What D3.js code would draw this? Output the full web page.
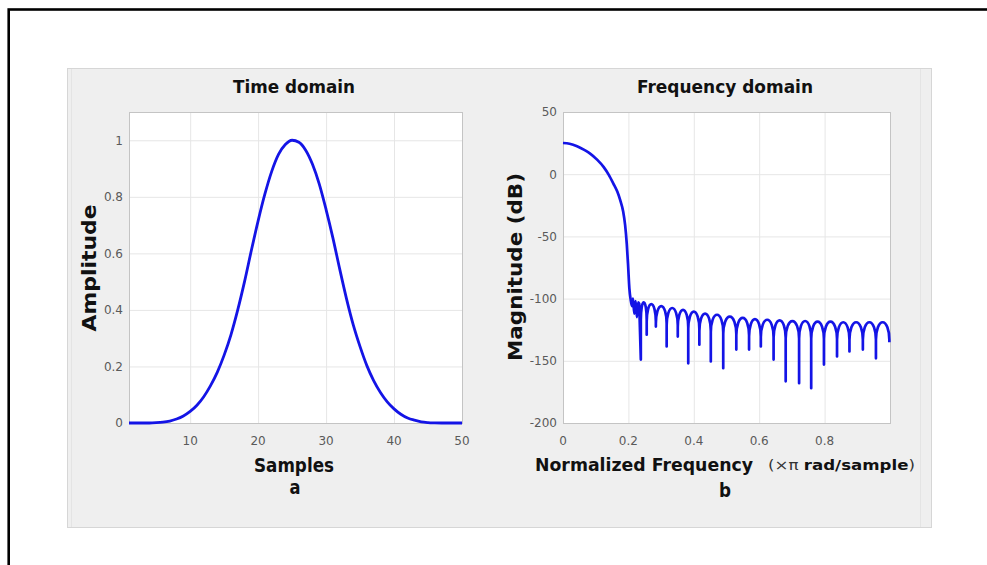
<!DOCTYPE html>
<html>
<head>
<meta charset="utf-8">
<script src="https://cdn.jsdelivr.net/npm/d3@7"></script>
<style>
  body { margin: 0; background: #fff; }
  svg { display: block; }
  .tick-label { font-family: "Liberation Sans Narrow", "Arial Narrow", "DejaVu Sans", sans-serif; font-size: 12px; fill: #5a5a5a; }
  .label { font-family: "DejaVu Sans", sans-serif; font-weight: bold; fill: #111; }
</style>
</head>
<body>
<div id="container"></div>
<script>
// ---------- data ----------
const samples = d3.range(1, 51)
const amplitude = [
    0, 0, 0, 0, 0.001, 0.003, 0.007, 0.014, 0.025, 0.041,
    0.063, 0.093, 0.132, 0.18, 0.24, 0.312, 0.4, 0.5, 0.61, 0.715,
    0.81, 0.89, 0.95, 0.985, 1.0, 0.993, 0.965, 0.915, 0.845, 0.755,
    0.655, 0.545, 0.44, 0.347, 0.27, 0.203, 0.15, 0.108, 0.075, 0.05,
    0.031, 0.018, 0.01, 0.004, 0.0015, 0.0005, 0, 0, 0, 0
]

// main lobe + first small wiggles: [freq, dB]
const mainLobe = [
    [0, 25.1], [0.02, 24.5], [0.043, 22.5], [0.065, 19.5], [0.083, 16.6],
    [0.105, 11.5], [0.124, 5.9], [0.14, -0.5], [0.154, -7.5], [0.166, -14],
    [0.175, -20.9], [0.184, -30], [0.19, -41], [0.195, -56], [0.199, -73],
    [0.203, -92], [0.207, -101], [0.211, -106], [0.214, -100], [0.218, -112],
    [0.222, -102], [0.226, -115], [0.23, -103], [0.233, -104]
]
// side-lobe nulls [freq, dB] and lobe tops between them (dB)
const nullFreq = [0.238, 0.256, 0.284, 0.317, 0.351, 0.383, 0.417, 0.452, 0.49, 0.53,
    0.569, 0.605, 0.644, 0.681, 0.722, 0.759, 0.798, 0.838, 0.876, 0.917, 0.957, 0.998]
const nullDepth = [-149, -129, -122.5, -138.5, -130.5, -152, -137, -150.5, -156, -141,
    -141, -138.5, -149, -166.5, -168, -172, -153, -146.5, -142.5, -141, -148, -135]
const lobeTop = [-103, -104.5, -106, -107.5, -109, -110.5, -112, -113, -114.5, -115.5,
    -116.5, -117, -117.5, -118, -118, -118.5, -118.5, -119, -119, -119, -119]

const timeXTicks = [10, 20, 30, 40, 50]
const timeYTicks = [0, 0.2, 0.4, 0.6, 0.8, 1]
const freqXTicks = [0, 0.2, 0.4, 0.6, 0.8]
const freqYTicks = [-200, -150, -100, -50, 0, 50]

// ---------- layout ----------
const width = 987, height = 565
const lineColor = "#1414e6"

const svg = d3.select("#container").append("svg")
    .attr("width", width)
    .attr("height", height)

// outer frame
svg.append("rect")
    .attr("x", 8.7).attr("y", 9.5)
    .attr("width", 1000).attr("height", 600)
    .attr("fill", "none").attr("stroke", "#000").attr("stroke-width", 2.6)

// grey figure panel
svg.append("rect")
    .attr("x", 67.5).attr("y", 68.5)
    .attr("width", 864).attr("height", 459)
    .attr("fill", "#efefef").attr("stroke", "#d6d6d6")
svg.append("line")
    .attr("x1", 71.5).attr("x2", 71.5).attr("y1", 69).attr("y2", 527)
    .attr("stroke", "#e4e4e4")
svg.append("line")
    .attr("x1", 920.5).attr("x2", 920.5).attr("y1", 69).attr("y2", 527)
    .attr("stroke", "#e4e4e4")

/********************* axes ************************/

function drawAxes(x, y, xTicks, yTicks, xFmt, yFmt) {
    const g = svg.append("g")
    const [x0, x1] = x.range()
    const [y0, y1] = y.range()

    g.append("rect")
        .attr("x", x0).attr("y", y1)
        .attr("width", x1 - x0).attr("height", y0 - y1)
        .attr("fill", "#fff")

    g.selectAll(".vgrid").data(xTicks).enter()
        .append("line")
        .attr("x1", d => x(d) + 0.5).attr("x2", d => x(d) + 0.5)
        .attr("y1", y1).attr("y2", y0)
        .attr("stroke", "#e6e6e6")

    g.selectAll(".hgrid").data(yTicks).enter()
        .append("line")
        .attr("x1", x0).attr("x2", x1)
        .attr("y1", d => y(d) + 0.5).attr("y2", d => y(d) + 0.5)
        .attr("stroke", "#e6e6e6")

    g.append("rect")
        .attr("x", x0 + 0.5).attr("y", y1 + 0.5)
        .attr("width", x1 - x0).attr("height", y0 - y1)
        .attr("fill", "none").attr("stroke", "#c4c4c4")

    g.selectAll(".xl").data(xTicks).enter()
        .append("text")
        .attr("class", "tick-label")
        .attr("x", d => x(d))
        .attr("y", 445)
        .attr("text-anchor", "middle")
        .text(xFmt)

    g.selectAll(".yl").data(yTicks).enter()
        .append("text")
        .attr("class", "tick-label")
        .attr("x", x0 - 6)
        .attr("y", d => y(d))
        .attr("dy", "0.36em")
        .attr("text-anchor", "end")
        .text(yFmt)
    return g
}

function label(text, x, y, size, len, rotate) {
    const t = svg.append("text")
        .attr("class", "label")
        .attr("text-anchor", "middle")
        .attr("font-size", size)
        .attr("textLength", len)
        .attr("lengthAdjust", "spacingAndGlyphs")
        .text(text)
    if (rotate) t.attr("transform", `translate(${x},${y}) rotate(-90)`)
    else t.attr("x", x).attr("y", y)
    return t
}

/********************* time domain ************************/

const xT = d3.scaleLinear().domain([1, 50]).range([129, 462])
const yT = d3.scaleLinear().domain([0, 1.1]).range([423, 112])

drawAxes(xT, yT, timeXTicks, timeYTicks, d => d, d => d)

svg.append("path")
    .datum(samples.map((s, i) => [s, amplitude[i]]))
    .attr("fill", "none")
    .attr("stroke", lineColor)
    .attr("stroke-width", 2.8)
    .attr("stroke-linejoin", "round")
    .attr("d", d3.line().x(d => xT(d[0])).y(d => yT(d[1])).curve(d3.curveMonotoneX))

label("Time domain", 294, 93, 18, 122)
label("Samples", 294, 472, 19, 80)
label("a", 295, 494, 19, 11)
label("Amplitude", 96, 268, 19, 127, true)

/********************* frequency domain ************************/

const xF = d3.scaleLinear().domain([0, 1]).range([563, 890])
const yF = d3.scaleLinear().domain([-200, 50]).range([423, 112])

drawAxes(xF, yF, freqXTicks, freqYTicks, d => d, d => d)

function freqPath() {
    let p = d3.line().x(d => xF(d[0])).y(d => yF(d[1])).curve(d3.curveMonotoneX)(mainLobe)
    p += `L${xF(nullFreq[0])},${yF(nullDepth[0])}`
    lobeTop.forEach((top, i) => {
        const xa = xF(nullFreq[i]), xb = xF(nullFreq[i + 1])
        const yk = yF(top - 14)
        const ry = yk - yF(top)
        const rx = (xb - xa) / 2
        p += `L${xa},${yk}A${rx},${ry} 0 0 1 ${xb},${yk}L${xb},${yF(nullDepth[i + 1])}`
    })
    return p
}

svg.append("path")
    .attr("fill", "none")
    .attr("stroke", lineColor)
    .attr("stroke-width", 2.7)
    .attr("stroke-linejoin", "round")
    .attr("d", freqPath())

label("Frequency domain", 725, 93, 18, 176)
label("Magnitude (dB)", 522, 267, 19, 188, true)

svg.append("text")
    .attr("class", "label")
    .attr("x", 535).attr("y", 471)
    .attr("font-size", 17)
    .attr("textLength", 218)
    .attr("lengthAdjust", "spacingAndGlyphs")
    .text("Normalized Frequency")

const unit = svg.append("text")
    .attr("class", "label")
    .attr("x", 768).attr("y", 470)
    .attr("font-size", 14)
    .attr("textLength", 147)
    .attr("lengthAdjust", "spacingAndGlyphs")
unit.append("tspan").attr("font-weight", "normal").attr("fill", "#333").text("(×π ")
unit.append("tspan").text("rad/sample")
unit.append("tspan").attr("font-weight", "normal").attr("fill", "#333").text(")")

label("b", 725, 497, 19, 12)
</script>
</body>
</html>
